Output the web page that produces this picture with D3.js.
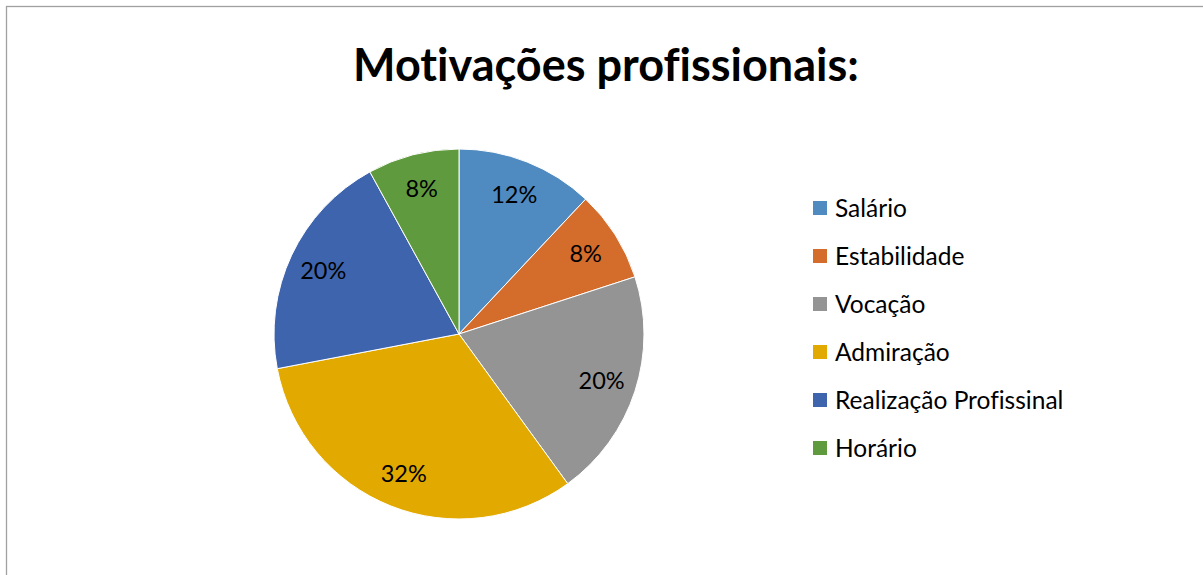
<!DOCTYPE html>
<html>
<head>
  <meta charset="utf-8">
  <title>Motivações profissionais</title>
  <script src="https://d3js.org/d3.v7.min.js"></script>
  <style>
    body {
      margin: 0;
      padding: 0;
      background: #fff;
    }
    text {
      font-family: Lato, "Open Sans", sans-serif;
      font-variant-ligatures: none;
      fill: #000;
    }
  </style>
</head>
<body>
  <div id="chart"></div>
  <script>
    // chart data
    var categories = ["Salário", "Estabilidade", "Vocação", "Admiração", "Realização Profissinal", "Horário"];
    var values = [12, 8, 20, 32, 20, 8];
    var colors = ["#4f8bc1", "#d46c2b", "#949494", "#e2aa00", "#3e64ad", "#5f9a3e"];

    var width = 1203,
        height = 575,
        cx = 459, cy = 334,
        radius = 185;

    var svg = d3.select("#chart")
      .append("svg")
        .attr("width", width)
        .attr("height", height);

    // outer border of the chart area
    svg.append("rect")
      .attr("x", 6.5)
      .attr("y", 6.5)
      .attr("width", width + 10)
      .attr("height", height + 10)
      .attr("fill", "none")
      .attr("stroke", "#a0a0a0")
      .attr("stroke-width", 1.3);

    svg.append("text")
      .attr("x", 606)
      .attr("y", 81)
      .attr("text-anchor", "middle")
      .style("font-size", "45px")
      .style("font-weight", "bold")
      .text("Motivações profissionais:");

    var color = d3.scaleOrdinal().domain(categories).range(colors);

    var pie = d3.pie()
      .sort(null)
      .value(function(d) { return d.value; });

    var data = categories.map(function(c, i) { return { name: c, value: values[i] }; });
    var total = d3.sum(values);

    var arc = d3.arc().innerRadius(0).outerRadius(radius);
    var labelArc = d3.arc().innerRadius(150).outerRadius(150);

    var g = svg.append("g")
      .attr("transform", "translate(" + cx + "," + cy + ")");

    var arcs = g.selectAll(".arc")
      .data(pie(data))
      .enter().append("g")
        .attr("class", "arc");

    arcs.append("path")
      .attr("d", arc)
      .attr("fill", function(d) { return color(d.data.name); })
      .attr("stroke", "#fff")
      .attr("stroke-width", 1);

    arcs.append("text")
      .attr("transform", function(d) { return "translate(" + labelArc.centroid(d) + ")"; })
      .attr("text-anchor", "middle")
      .attr("dy", "0.36em")
      .style("font-size", "23.5px")
      .text(function(d) { return Math.round(d.data.value / total * 100) + "%"; });

    // legend
    var legend = svg.append("g")
      .attr("transform", "translate(813,208)");

    var item = legend.selectAll(".item")
      .data(categories)
      .enter().append("g")
        .attr("class", "item")
        .attr("transform", function(d, i) { return "translate(0," + i * 48 + ")"; });

    item.append("rect")
      .attr("x", 0)
      .attr("y", -7)
      .attr("width", 14)
      .attr("height", 14)
      .attr("fill", function(d) { return color(d); });

    item.append("text")
      .attr("x", 22)
      .attr("dy", "0.36em")
      .style("font-size", "24.5px")
      .text(function(d) { return d; });
  </script>
</body>
</html>
